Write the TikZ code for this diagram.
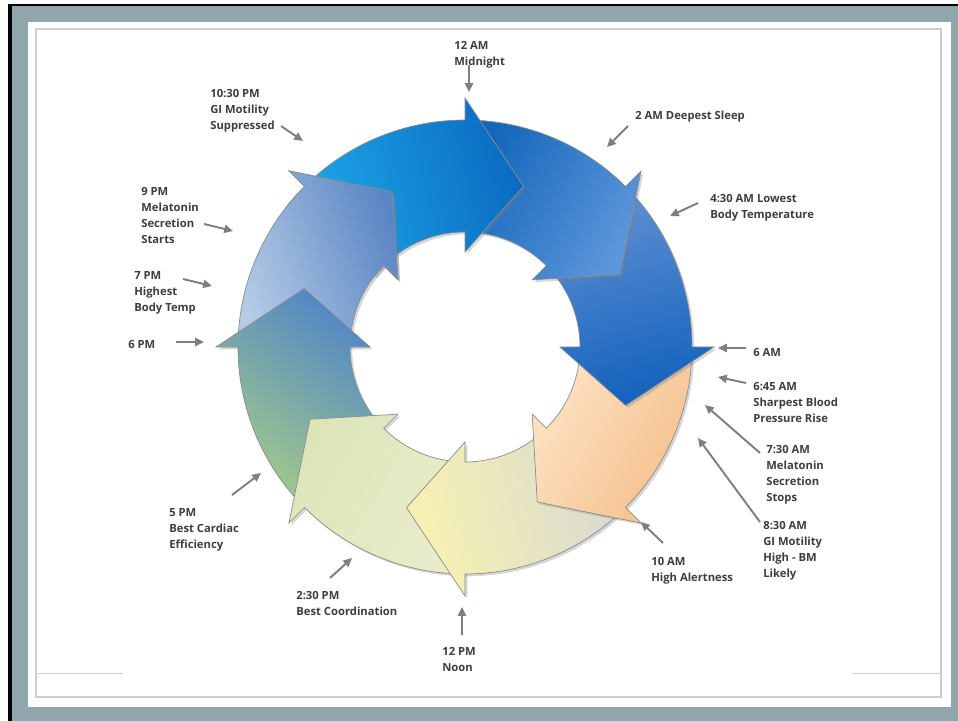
\documentclass[tikz,border=0pt]{standalone}
\usepackage{fontspec}
\setmainfont{Open Sans}
\usetikzlibrary{arrows.meta,shadows}
\usepackage{color}

\definecolor{framegray}{HTML}{91A5AD}
\definecolor{panelline}{HTML}{CFCDC5}
\definecolor{txtgray}{HTML}{3E3E3E}
\definecolor{leadgray}{HTML}{7F7F7F}
% ring colours, tail / head
\definecolor{cyant}{HTML}{1DA5E8}\definecolor{cyanh}{HTML}{0A6BC0}
\definecolor{bluet}{HTML}{1467BB}\definecolor{blueh}{HTML}{5D96DA}
\definecolor{deept}{HTML}{6090D2}\definecolor{deeph}{HTML}{1262BE}
\definecolor{peacht}{HTML}{FDE3C3}\definecolor{peachh}{HTML}{F5BF8C}
\definecolor{sandt}{HTML}{D9D9D2}\definecolor{sandh}{HTML}{F7F2B0}
\definecolor{palet}{HTML}{E9ECCA}\definecolor{paleh}{HTML}{DCE5B8}
\definecolor{greent}{HTML}{A6CB8A}\definecolor{greenh}{HTML}{4F86C6}
\definecolor{steelt}{HTML}{B4CAE6}\definecolor{steelh}{HTML}{5A86C4}

\begin{document}
\begin{tikzpicture}[x=0.02cm,y=0.02cm,
    lbl/.style={font=\fontsize{6.4}{9.07}\selectfont\bfseries,text=txtgray,
      align=left,anchor=north west,inner sep=0pt},
    lead/.style={draw=leadgray,line width=1.1pt,-{Triangle[length=5pt,width=4.6pt]}},
    seg/.style={draw=black!45,line width=0.4pt,
      drop shadow={shadow xshift=1.3pt,shadow yshift=-1.3pt,opacity=0.32}}]
  \useasboundingbox (0,0) rectangle (958,721);

  % frame
  \fill[white] (0,0) rectangle (958,721);
  \fill[black] (8,0) rectangle (958,717);
  \fill[framegray] (12,0) rectangle (958,714.5);
  \fill[white] (28,14) rectangle (951,699);
  \draw[panelline,line width=0.7pt] (36,24) rectangle (941,692);
  \draw[panelline,line width=0.7pt] (36,47.5) -- (123,47.5);
  \draw[panelline,line width=0.7pt] (852,47.5) -- (941,47.5);

  % ring of arrows
  \begin{scope}[shift={(465,374)}]
    \foreach \a/\ct/\ch/\sa in {135/steelt/steelh/-70,180/greent/greenh/-35,
        -135/palet/paleh/-300,-90/sandt/sandh/-255,-45/peacht/peachh/-120,
        0/deept/deeph/-165,45/bluet/blueh/-120,90/cyant/cyanh/-75}{
      \pgfmathsetmacro{\ta}{\a+45}
      \pgfmathsetmacro{\pa}{\a-20}
      \path[seg,top color=\ch,bottom color=\ct,shading angle=\sa]
        (\ta:227) arc[start angle=\ta,end angle=\a,radius=227]
        -- (\a:249) -- (\pa:171) -- (\a:95) -- (\a:115)
        arc[start angle=\a,end angle=\ta,radius=115] -- cycle;
    }
    % 9 PM head lies over the midnight arrow
    \begin{scope}
      \clip (0,0) -- (142:275) arc[start angle=142,end angle=108,radius=275] -- cycle;
      \path[seg,top color=steelh,bottom color=steelt,shading angle=-70]
        (180:227) arc[start angle=180,end angle=135,radius=227]
        -- (135:249) -- (115:171) -- (135:95) -- (135:115)
        arc[start angle=135,end angle=180,radius=115] -- cycle;
    \end{scope}
  \end{scope}

  % labels
  \node[lbl] (t0000) at (454,680) {12 AM\\Midnight};
  \node[lbl] (t0200) at (635,610) {2 AM Deepest Sleep};
  \node[lbl] (t0430) at (710,527) {4:30 AM Lowest\\Body Temperature};
  \node[lbl] (t0600) at (753,373) {6 AM};
  \node[lbl] (t0645) at (753,339) {6:45 AM\\Sharpest Blood\\Pressure Rise};
  \node[lbl] (t0730) at (766,276) {7:30 AM\\Melatonin\\Secretion\\Stops};
  \node[lbl] (t0830) at (763,200) {8:30 AM\\GI Motility\\High - BM\\Likely};
  \node[lbl] (t1000) at (651,164) {10 AM\\High Alertness};
  \node[lbl] (t1200) at (442,74) {12 PM\\Noon};
  \node[lbl] (t1430) at (296,130) {2:30 PM\\Best Coordination};
  \node[lbl] (t1700) at (169,213) {5 PM\\Best Cardiac\\Efficiency};
  \node[lbl] (t1800) at (128,381) {6 PM};
  \node[lbl] (t1900) at (134,450) {7 PM\\Highest\\Body Temp};
  \node[lbl] (t2100) at (141,534) {9 PM\\Melatonin\\Secretion\\Starts};
  \node[lbl] (t2230) at (210,632) {10:30 PM\\GI Motility\\Suppressed};

  % leader ends
  \coordinate (s0000) at (469,656); \coordinate (e0000) at (469,629);
  \coordinate (s0200) at (628,595); \coordinate (e0200) at (607,574);
  \coordinate (s0430) at (698,518); \coordinate (e0430) at (670,505);
  \coordinate (s0600) at (746,373); \coordinate (e0600) at (718,373);
  \coordinate (s0645) at (746,338); \coordinate (e0645) at (718,344);
  \coordinate (s0730) at (760,268); \coordinate (e0730) at (705,316);
  \coordinate (s0830) at (760,199); \coordinate (e0830) at (698,283);
  \coordinate (s1000) at (663,178); \coordinate (e1000) at (641,199);
  \coordinate (s1200) at (462,86);  \coordinate (e1200) at (462,114);
  \coordinate (s1430) at (330,143); \coordinate (e1430) at (352,163);
  \coordinate (s1700) at (232,226); \coordinate (e1700) at (261,248);
  \coordinate (s1800) at (176,379); \coordinate (e1800) at (204,379);
  \coordinate (s1900) at (183,442); \coordinate (e1900) at (212,435);
  \coordinate (s2100) at (204,497); \coordinate (e2100) at (233,490);
  \coordinate (s2230) at (281,595); \coordinate (e2230) at (303,580);

  \draw[lead] (s0000) -- (e0000);
  \draw[lead] (s0200) -- (e0200);
  \draw[lead] (s0430) -- (e0430);
  \draw[lead] (s0600) -- (e0600);
  \draw[lead] (s0645) -- (e0645);
  \draw[lead] (s0730) -- (e0730);
  \draw[lead] (s0830) -- (e0830);
  \draw[lead] (s1000) -- (e1000);
  \draw[lead] (s1200) -- (e1200);
  \draw[lead] (s1430) -- (e1430);
  \draw[lead] (s1700) -- (e1700);
  \draw[lead] (s1800) -- (e1800);
  \draw[lead] (s1900) -- (e1900);
  \draw[lead] (s2100) -- (e2100);
  \draw[lead] (s2230) -- (e2230);
\end{tikzpicture}
\end{document}
